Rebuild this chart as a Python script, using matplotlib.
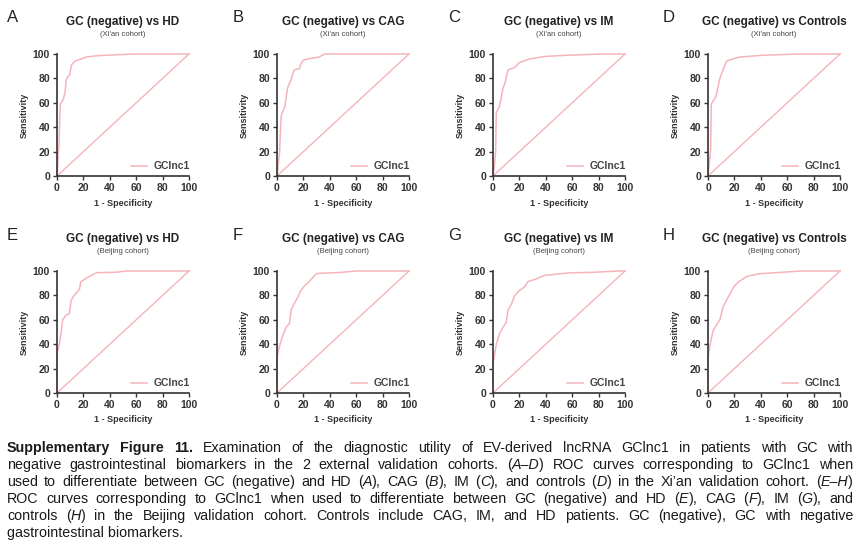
import re
import matplotlib
matplotlib.use("Agg")
import matplotlib.pyplot as plt

plt.rcParams['font.family'] = ['Liberation Sans', 'DejaVu Sans']

# panel texts
letters = list("ABCDEFGH")
titles = ["GC (negative) vs HD", "GC (negative) vs CAG",
          "GC (negative) vs IM", "GC (negative) vs Controls"] * 2
cohorts = ["(Xi'an cohort)"] * 4 + ["(Beijing cohort)"] * 4
ticks = [0, 20, 40, 60, 80, 100]
series_name = "GClnc1"

# ROC curves: 1 - specificity (%) and sensitivity (%)
fpr_a = [0, 0.5, 1, 1.5, 2, 2.5, 3, 4.5, 6, 7, 8, 9.6, 11, 13.4, 16, 18.5, 22, 30, 37, 48, 58, 100]
tpr_a = [0, 8, 20, 25, 45, 58, 60, 62, 68, 79, 81, 83, 91, 94, 95, 96, 97.5, 98.5, 99, 99.5, 100, 100]
fpr_b = [0, 1, 2, 2.5, 3.3, 6, 7, 8, 11, 13, 17, 18, 20, 23.5, 32, 36, 100]
tpr_b = [0, 10, 20, 35, 50, 57, 65, 72, 80, 87, 88, 92, 95, 96, 97.5, 100, 100]
fpr_c = [0, 1, 2, 2.5, 5, 7.6, 9, 11.4, 14, 16.5, 20, 28, 39, 57, 82, 100]
tpr_c = [0, 8, 20, 52, 57, 72, 76, 87, 88, 89, 93, 96, 98, 99, 100, 100]
fpr_d = [0, 1, 2, 2.5, 6, 8, 9, 11, 14, 19, 24, 42, 70, 100]
tpr_d = [0, 10, 22, 59, 65, 75, 80, 86, 94, 96, 97.5, 99, 100, 100]
fpr_e = [0, 0, 1.8, 3, 4.3, 7, 9.4, 10.7, 13, 17, 18, 22, 27, 30, 45, 52.5, 100]
tpr_e = [0, 32, 40, 49, 60, 64, 65, 76, 80, 85, 91, 94, 97, 98.6, 99, 100, 100]
fpr_f = [0, 0, 1.8, 4.3, 7, 9.4, 10.7, 13, 16, 18, 21, 25, 30, 40, 50, 60, 100]
tpr_f = [0, 29.5, 38, 47, 54, 57, 68, 73, 79, 84, 88, 92, 98, 98.4, 99, 100, 100]
fpr_g = [0, 0, 1.3, 2.5, 5, 7.6, 10, 11.4, 14, 16.5, 20, 24, 26.6, 31.6, 39, 57, 77, 95, 100]
tpr_g = [0, 24, 32, 40, 49, 54, 58, 68, 73, 80, 84, 87, 91.5, 93, 96.4, 98.4, 99, 100, 100]
fpr_h = [0, 0, 1.3, 3.8, 6.3, 9, 11.4, 14, 16.5, 19.5, 23, 29.6, 39, 57, 70, 100]
tpr_h = [0, 29.5, 38, 51, 55.5, 60, 70.5, 76, 81, 87, 91, 95.6, 97.8, 99, 100, 100]

curves = [(fpr_a, tpr_a), (fpr_b, tpr_b), (fpr_c, tpr_c), (fpr_d, tpr_d),
          (fpr_e, tpr_e), (fpr_f, tpr_f), (fpr_g, tpr_g), (fpr_h, tpr_h)]

# caption (** = bold, _ = italic)
caption = [
    "**Supplementary** **Figure** **11.** Examination of the diagnostic utility of EV-derived lncRNA GClnc1 in patients with GC with",
    "negative gastrointestinal biomarkers in the 2 external validation cohorts. (_A–D_) ROC curves corresponding to GClnc1 when",
    "used to differentiate between GC (negative) and HD (_A_), CAG (_B_), IM (_C_), and controls (_D_) in the Xi’an validation cohort. (_E–H_)",
    "ROC curves corresponding to GClnc1 when used to differentiate between GC (negative) and HD (_E_), CAG (_F_), IM (_G_), and",
    "controls (_H_) in the Beijing validation cohort. Controls include CAG, IM, and HD patients. GC (negative), GC with negative",
    "gastrointestinal biomarkers.",
]

W, H = 866, 552
col_left = [57, 277, 493, 708]
row_top = [54, 271]
ax_w, ax_h = 132, 122
pink = '#f4b4ba'

fig = plt.figure(figsize=(W / 100, H / 100), dpi=100)

for i in range(8):
    r, c = divmod(i, 4)
    left, top = col_left[c], row_top[r]
    ax = fig.add_axes([left / W, 1 - (top + ax_h) / H, ax_w / W, ax_h / H])
    fpr, tpr = curves[i]
    ax.plot(fpr, tpr, color=pink, lw=1.1, label=series_name, clip_on=False)
    ax.plot([0, 100], [0, 100], color=pink, lw=1.0, clip_on=False)
    ax.set_xlim(0, 100)
    ax.set_ylim(0, 100)
    ax.set_xticks(ticks)
    ax.set_yticks(ticks)
    for s in ['top', 'right']:
        ax.spines[s].set_visible(False)
    for s in ['left', 'bottom']:
        ax.spines[s].set_linewidth(1.2)
        ax.spines[s].set_color('#333333')
    ax.tick_params(direction='out', length=3, width=1, color='#333333', pad=2,
                   labelsize=7.5)
    for lab in ax.get_xticklabels() + ax.get_yticklabels():
        lab.set_fontweight('bold')
        lab.set_color('#333333')
    ax.set_xlabel("1 - Specificity", fontsize=6.5, fontweight='bold', labelpad=4, color='#333333')
    ax.set_ylabel("Sensitivity", fontsize=6.5, fontweight='bold', labelpad=3, color='#333333')
    ax.legend(loc='lower right', bbox_to_anchor=(1.07, -0.03), frameon=False,
              handlelength=1.6, borderpad=0.3, handletextpad=0.6,
              prop={'size': 7.5, 'weight': 'bold'}, labelcolor='#444444')
    ax.text(0.5, 1 + 32 / ax_h, titles[i], transform=ax.transAxes, ha='center',
            va='center', fontsize=8.5, fontweight='bold', color='#222222')
    ax.text(0.5, 1 + 20 / ax_h, cohorts[i], transform=ax.transAxes, ha='center',
            va='center', fontsize=5.5, color='#444444')
    lx = [7, 233, 448, 663][c]
    ly = [18, 235][r]
    fig.text(lx / W, 1 - ly / H, letters[i], ha='left', va='center', fontsize=12,
             color='#222222')

# justified caption
renderer = fig.canvas.get_renderer()
cap_left, cap_right = 7, 853
cap_y0, cap_dy = 448, 16.9
cap_size = 10.3


def parse_word(w):
    pieces = []
    for part in re.split(r'(\*\*[^*]+\*\*|_[^_]+_)', w):
        if not part:
            continue
        if part.startswith('**'):
            pieces.append((part[2:-2], 'bold', 'normal'))
        elif part.startswith('_'):
            pieces.append((part[1:-1], 'normal', 'italic'))
        else:
            pieces.append((part, 'normal', 'normal'))
    return pieces


for li, line in enumerate(caption):
    y = 1 - (cap_y0 + li * cap_dy) / H
    if li == len(caption) - 1:
        fig.text(cap_left / W, y, line, fontsize=cap_size, va='center',
                 ha='left', color='#1a1a1a')
        continue
    words = []
    for w in line.split(' '):
        objs = []
        for txt, weight, style in parse_word(w):
            t = fig.text(0, y, txt, fontsize=cap_size, fontweight=weight, style=style,
                         va='center', ha='left', color='#1a1a1a')
            objs.append((t, t.get_window_extent(renderer).width))
        words.append(objs)
    total = sum(wd for objs in words for _, wd in objs)
    gap = (cap_right - cap_left - total) / (len(words) - 1)
    x = cap_left
    for objs in words:
        for t, wd in objs:
            t.set_x(x / W)
            x += wd
        x += gap

fig.savefig("out.png", dpi=100)
